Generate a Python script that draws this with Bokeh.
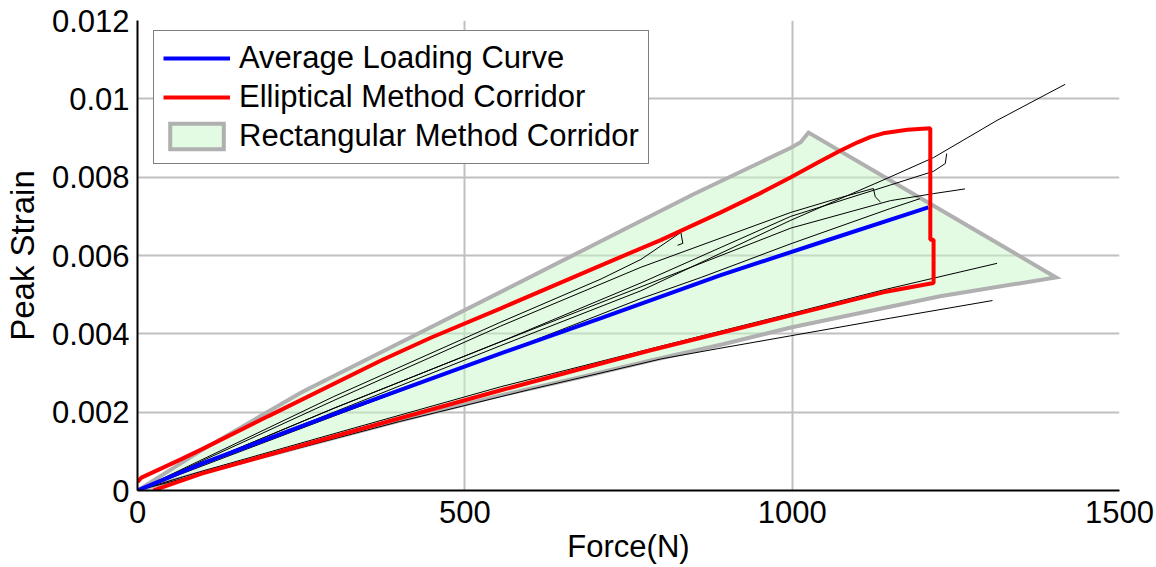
from bokeh.plotting import figure
from bokeh.models import Range1d, FixedTicker, Legend, LegendItem
from bokeh.embed import file_html
from bokeh.resources import INLINE

# ---------------- data ----------------
x_ticks = [0, 500, 1000, 1500]
x_tick_labels = ["0", "500", "1000", "1500"]
y_ticks = [0, 0.002, 0.004, 0.006, 0.008, 0.01, 0.012]
y_tick_labels = ["0", "0.002", "0.004", "0.006", "0.008", "0.01", "0.012"]

# Rectangular method corridor (upper boundary, tip, lower boundary back to origin)
rect_force = [0, 100, 250, 429, 667, 850, 998, 1013, 1025,
              1403, 1226, 998, 891, 784, 677, 555, 400, 200, 100, 0]
rect_strain = [0, 0.00105, 0.0025, 0.00401, 0.00602, 0.00757, 0.00875, 0.00889, 0.00914,
               0.00544, 0.00496, 0.00416, 0.00372, 0.00332, 0.00289, 0.00243, 0.00178, 0.0009, 0.00047, 0]

# Elliptical method corridor
ell_force = [0, 6, 67, 98, 200, 372, 448, 555, 708, 800, 891, 950, 998, 1040, 1074, 1100, 1120,
             1139, 1176, 1211,
             1211, 1216, 1216, 1139, 998, 784, 555, 300, 98, 32, 24]
ell_strain = [0.00022, 0.00033, 0.0008, 0.00105, 0.0019, 0.00332, 0.0039, 0.00465, 0.00575, 0.0064,
              0.0071, 0.00758, 0.0080, 0.00838, 0.00868, 0.00889, 0.00903,
              0.00912, 0.00921, 0.00925,
              0.0064, 0.0064, 0.0053, 0.00506, 0.00447, 0.00358, 0.00256,
              0.00138, 0.00043, 0.00005, 0]

# Average loading curve
avg_force = [0, 100, 300, 555, 708, 891, 1050, 1208]
avg_strain = [0, 0.0007, 0.00195, 0.0035, 0.0044, 0.0055, 0.00637, 0.00723]

# Individual test curves
test1_force = [0, 300, 555, 769, 998, 1145, 1216, 1313, 1417]
test1_strain = [0, 0.0020, 0.0037, 0.0051, 0.0069, 0.00797, 0.0085, 0.00945, 0.01037]
test2_force = [0, 300, 555, 769, 998, 1150, 1216, 1234, 1236]
test2_strain = [0, 0.0021, 0.0038, 0.0053, 0.0070, 0.0078, 0.00815, 0.00835, 0.0086]
test3_force = [0, 300, 555, 769, 998, 1150, 1216, 1264]
test3_strain = [0, 0.0021, 0.0038, 0.0052, 0.0067, 0.0074, 0.00758, 0.0077]
test4_force = [0, 300, 555, 769, 998, 1074, 1124, 1127, 1135]
test4_strain = [0, 0.0023, 0.0042, 0.0057, 0.0071, 0.00748, 0.00771, 0.0075, 0.00736]
test5_force = [0, 300, 555, 708, 769, 830, 833, 825]
test5_strain = [0, 0.0024, 0.0043, 0.0054, 0.0059, 0.00659, 0.00631, 0.00626]
test6_force = [0, 100, 300, 555, 784, 998, 1139, 1313]
test6_strain = [0, 0.0005, 0.00145, 0.00265, 0.00362, 0.00452, 0.00512, 0.0058]
test7_force = [0, 200, 400, 600, 800, 886, 998, 1150, 1306]
test7_strain = [0, 0.00088, 0.00176, 0.00258, 0.00336, 0.00362, 0.00395, 0.0044, 0.00485]
test8_force = [0, 300, 555, 769, 861, 998, 1150, 1195]
test8_strain = [0, 0.0019, 0.0035, 0.0049, 0.00544, 0.0063, 0.0072, 0.00745]

tests_force = [test1_force, test2_force, test3_force, test4_force,
               test5_force, test6_force, test7_force, test8_force]
tests_strain = [test1_strain, test2_strain, test3_strain, test4_strain,
                test5_strain, test6_strain, test7_strain, test8_strain]

FONT = "Liberation Sans"
FS = "31px"

p = figure(width=1156, height=567, x_range=Range1d(0, 1500), y_range=Range1d(0, 0.012),
           output_backend="svg", toolbar_location=None,
           min_border_left=137, min_border_right=37, min_border_top=20, min_border_bottom=77)
p.outline_line_color = None
p.background_fill_color = "white"
p.border_fill_color = "white"

# axes
for ax in (p.xaxis[0], p.yaxis[0]):
    ax.axis_line_color = "black"
    ax.axis_line_width = 2
    ax.major_tick_line_color = None
    ax.minor_tick_line_color = None
    ax.major_tick_in = 0
    ax.major_tick_out = 0
    ax.minor_tick_in = 0
    ax.minor_tick_out = 0
    ax.major_label_text_font = FONT
    ax.major_label_text_font_size = FS
    ax.major_label_text_color = "black"
    ax.axis_label_text_font = FONT
    ax.axis_label_text_font_size = FS
    ax.axis_label_text_font_style = "normal"
    ax.axis_label_text_color = "black"

p.xaxis.ticker = FixedTicker(ticks=x_ticks)
p.xaxis.major_label_overrides = dict(zip(x_ticks, x_tick_labels))
p.yaxis.ticker = FixedTicker(ticks=y_ticks)
p.yaxis.major_label_overrides = dict(zip(y_ticks, y_tick_labels))
p.xaxis.axis_label = "Force(N)"
p.yaxis.axis_label = "Peak Strain"
p.yaxis.axis_label_text_font_size = "33px"
p.xaxis.major_label_standoff = 10
p.yaxis.major_label_standoff = 8
p.xaxis.axis_label_standoff = 3
p.yaxis.axis_label_standoff = 8

p.xgrid.ticker = FixedTicker(ticks=x_ticks[1:-1])
p.ygrid.ticker = FixedTicker(ticks=y_ticks[1:-1])
p.grid.grid_line_color = "#c0c0c0"
p.grid.grid_line_width = 2

# glyphs
rect_r = p.patch(rect_force, rect_strain, fill_color="#c8f5c8", fill_alpha=0.5,
                 line_color="#b0b0b0", line_width=4, line_join="miter")
p.multi_line(tests_force, tests_strain, line_color="black", line_width=1)
avg_r = p.line(avg_force, avg_strain, line_color="#0000ff", line_width=4)
ell_r = p.line(ell_force, ell_strain, line_color="#ff0000", line_width=4)

legend = Legend(items=[
    LegendItem(label="Average Loading Curve", renderers=[avg_r]),
    LegendItem(label="Elliptical Method Corridor", renderers=[ell_r]),
    LegendItem(label="Rectangular Method Corridor", renderers=[rect_r]),
], location=(16, 326))
legend.margin = 0
legend.padding = 9
legend.spacing = 3
legend.glyph_width = 67
legend.glyph_height = 32
legend.label_height = 32
legend.label_standoff = 9
legend.label_text_font = FONT
legend.label_text_font_size = FS
legend.label_text_color = "black"
legend.border_line_color = "black"
legend.border_line_width = 1.5
legend.background_fill_color = "white"
legend.background_fill_alpha = 1
p.add_layout(legend)

open("out.html", "w").write(file_html(p, INLINE))
